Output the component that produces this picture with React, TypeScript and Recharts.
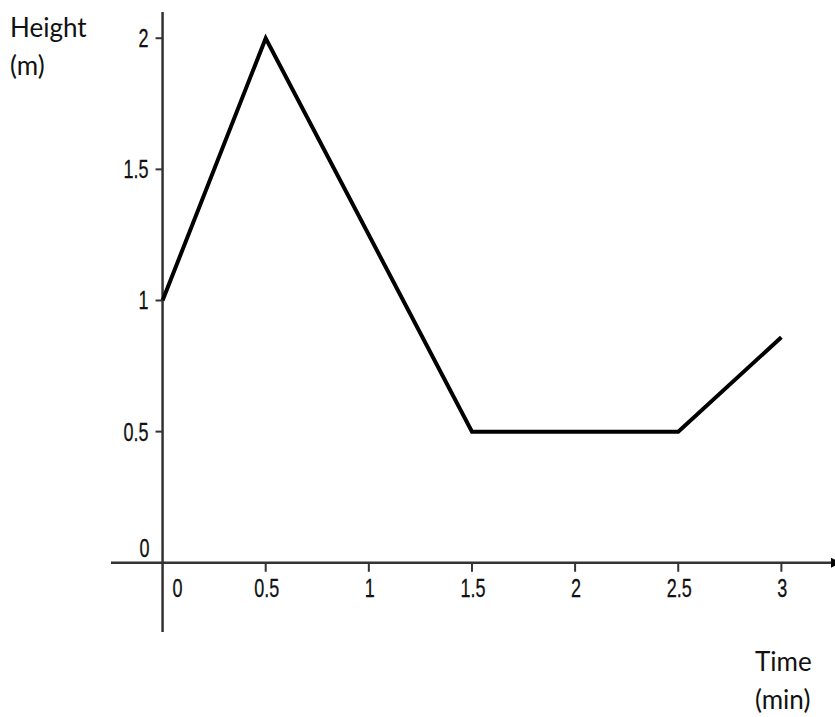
import { LineChart, Line, XAxis, YAxis, ReferenceLine, ReferenceDot } from 'recharts';

const times = [0, 0.5, 1.5, 2.5, 3];
const heights = [1, 2, 0.5, 0.5, 0.86];
const xTicks = [0.5, 1, 1.5, 2, 2.5, 3];
const yTicks = [0.5, 1, 1.5, 2];
const xDomain = [-0.25, 3.26];
const yDomain = [-0.264, 2.1];

const data = times.map((t, i) => ({ t, h: heights[i] }));

const axisColor = '#333';
const tickFont = "'Liberation Sans', Arial, sans-serif";
const titleFont = "Lato, 'Open Sans', sans-serif";

// condensed digits, like the narrow font of the original
const TickText = ({ x, y, anchor, children }: any) => (
  <text
    transform={`translate(${x},${y}) scale(0.72,1)`}
    textAnchor={anchor}
    fontSize={25}
    style={{ fontFamily: tickFont, fontSize: '25px' }}
    fill="#111"
    stroke="#111"
    strokeWidth={0.3}
  >
    {children}
  </text>
);

const XTick = ({ cx, cy, label }: any) => (
  <g>
    <line x1={cx} y1={cy} x2={cx} y2={cy + 9} stroke={axisColor} strokeWidth={2} />
    <TickText x={cx + 1} y={cy + 34} anchor="middle">{label}</TickText>
  </g>
);

const YTick = ({ cx, cy, label }: any) => (
  <g>
    <line x1={cx} y1={cy} x2={cx - 7} y2={cy} stroke={axisColor} strokeWidth={2} />
    <TickText x={cx - 14} y={cy + 9} anchor="end">{label}</TickText>
  </g>
);

const Arrow = ({ cx, cy }: any) => (
  <polygon points={`${cx - 4},${cy - 5} ${cx + 6},${cy} ${cx - 4},${cy + 5}`} fill="#000" />
);

const App = () => {
  return (
    <div style={{ position: 'absolute', left: 0, top: 0, width: 835, height: 717, background: '#fff' }}>
      <LineChart width={835} height={717} data={data} margin={{ top: 12, right: 0, bottom: 85, left: 111 }}>
        <XAxis dataKey="t" type="number" domain={xDomain} hide allowDataOverflow />
        <YAxis type="number" domain={yDomain} hide allowDataOverflow />
        <ReferenceLine y={0} stroke={axisColor} strokeWidth={2.5} />
        <ReferenceLine x={0} stroke={axisColor} strokeWidth={2.5} />
        <ReferenceDot x={xDomain[1]} y={0} shape={(p: any) => <Arrow {...p} />} ifOverflow="visible" />
        {xTicks.map((v) => (
          <ReferenceDot key={`x-${v}`} x={v} y={0} shape={(p: any) => <XTick {...p} label={String(v)} />} />
        ))}
        {yTicks.map((v) => (
          <ReferenceDot key={`y-${v}`} x={0} y={v} shape={(p: any) => <YTick {...p} label={String(v)} />} />
        ))}
        <ReferenceDot
          x={0}
          y={0}
          shape={(p: any) => (
            <g>
              <TickText x={p.cx - 13} y={p.cy - 6} anchor="end">0</TickText>
              <TickText x={p.cx + 15} y={p.cy + 34} anchor="middle">0</TickText>
            </g>
          )}
        />
        <Line
          dataKey="h"
          type="linear"
          stroke="#000"
          strokeWidth={4}
          strokeLinejoin="miter"
          dot={false}
          activeDot={false}
          isAnimationActive={false}
        />
      </LineChart>
      <div style={{ position: 'absolute', left: 10, top: 8, fontFamily: titleFont, fontSize: 26, lineHeight: '38px', color: '#111' }}>
        Height<br />(m)
      </div>
      <div style={{ position: 'absolute', left: 755, top: 642, fontFamily: titleFont, fontSize: 26, lineHeight: '38px', color: '#111' }}>
        Time<br />(min)
      </div>
    </div>
  );
};

export default App;
